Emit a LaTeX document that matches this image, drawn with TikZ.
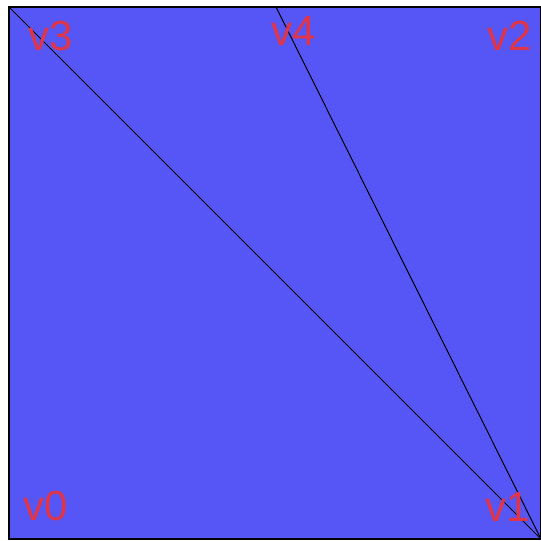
\documentclass[tikz,border=0pt]{standalone}
\usepackage{fontspec}
\setmainfont{Liberation Sans}
\definecolor{facefill}{RGB}{86,86,246}
\definecolor{vlabel}{RGB}{224,52,72}
\begin{document}
\begin{tikzpicture}[x=0.5pt,y=-0.5pt,
    vtx/.style={text=vlabel, font=\fontsize{21}{21}\selectfont, inner sep=0pt}]
  \useasboundingbox (0,0) rectangle (541,541);
  \coordinate (v0) at (9,539);
  \coordinate (v1) at (541,539);
  \coordinate (v2) at (541,7);
  \coordinate (v3) at (9,7);
  \coordinate (v4) at (276,7);
  \filldraw[fill=facefill, line width=0.6pt] (v0) -- (v1) -- (v2) -- (v3) -- cycle;
  \draw[line width=0.5pt] (v3) -- (v1);
  \draw[line width=0.5pt] (v4) -- (v1);
  \node[vtx] (l3) at (51,36) {v3};
  \node[vtx] (l4) at (294,31) {v4};
  \node[vtx] (l2) at (510,36) {v2};
  \node[vtx] (l0) at (46,506) {v0};
  \node[vtx] (l1) at (508,507) {v1};
\end{tikzpicture}
\end{document}
